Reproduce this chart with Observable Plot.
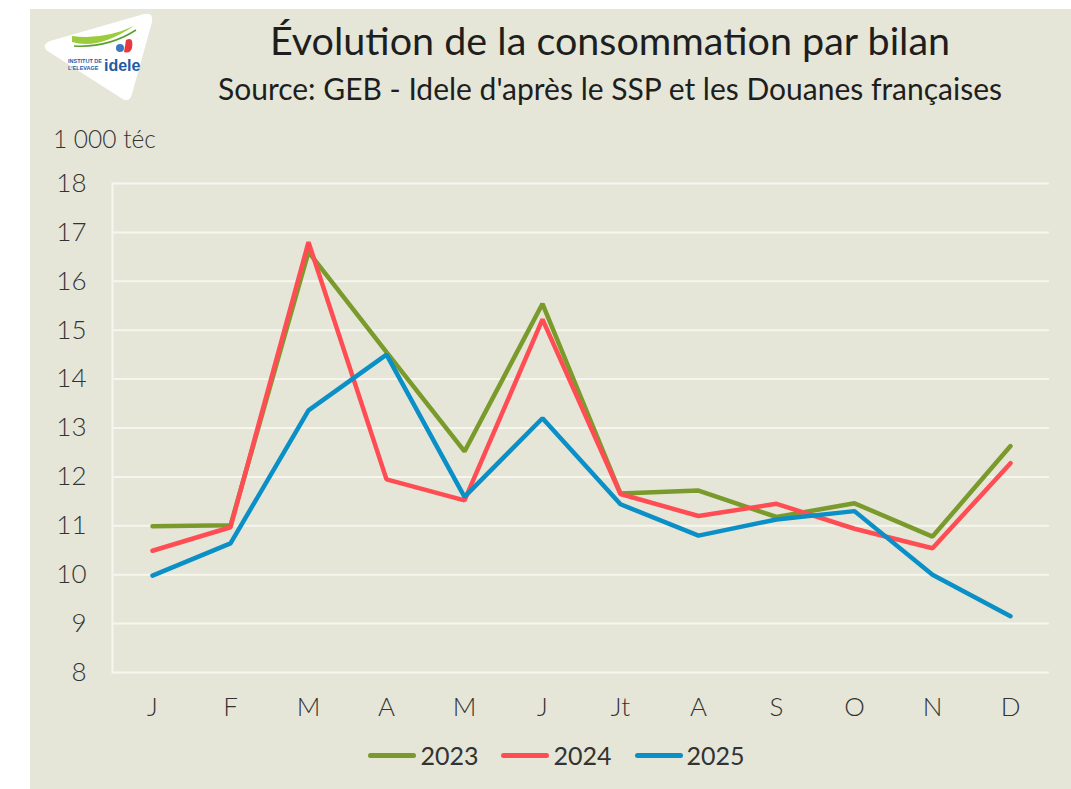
<!DOCTYPE html>
<html>
<head>
<meta charset="utf-8">
<script src="https://cdn.jsdelivr.net/npm/d3@7"></script>
<script src="https://cdn.jsdelivr.net/npm/@observablehq/plot@0.6"></script>
<style>
  html, body { margin: 0; padding: 0; background: #ffffff; }
  #wrap { position: relative; width: 1071px; height: 789px; overflow: hidden; font-family: Lato, "Open Sans", sans-serif; }
  #panel { position: absolute; left: 30px; top: 9px; width: 1041px; height: 780px; background: #e5e6d8; }
  .title { position: absolute; left: 610px; transform: translateX(-50%); white-space: nowrap; color: #1e1e1e; line-height: 1; }
  #t1 { top: 20px; font-size: 39.5px; }
  #t2 { top: 73px; font-size: 30px; }
  #unit { position: absolute; left: 53px; top: 127px; font-size: 24.5px; color: #333; line-height: 1; font-weight: 300; }
  #chart { position: absolute; left: 30px; top: 160px; }
  #legend { position: absolute; top: 740px; left: 0; width: 1071px; display: flex; justify-content: center; gap: 23px; padding-left: 42px; box-sizing: border-box; }
  .item { display: flex; align-items: center; font-size: 25px; color: #333; }
  .sw { width: 48px; height: 5px; border-radius: 3px; margin-right: 4px; }
  #logo { position: absolute; left: 38px; top: 10px; }
</style>
</head>
<body>
<div id="wrap">
  <div id="panel"></div>
  <svg id="logo" width="120" height="95" viewBox="0 0 120 95">
    <path d="M8 40 Q4 34 12 31 L106 4 Q116 2 114 12 L94 84 Q91 94 83 88 Z" fill="#ffffff"/>
    <path d="M34 32 Q60 40 96 16 Q66 30 34 26 Z" fill="#9ccc3c"/>
    <path d="M36 36 Q70 38 98 20" stroke="#5aa02c" stroke-width="1.5" fill="none"/>
    <path d="M88 30 Q96 26 94 38 Q92 44 86 42" fill="#e8383f"/>
    <circle cx="82" cy="38" r="4" fill="#3a78c0"/>
    <text x="30" y="53" font-size="5.5" font-weight="700" fill="#1f5aa6" font-family="Liberation Sans, sans-serif">INSTITUT DE</text>
    <text x="30" y="60" font-size="5.5" font-weight="700" fill="#1f5aa6" font-family="Liberation Sans, sans-serif">L'ELEVAGE</text>
    <text x="66" y="61" font-size="16" font-weight="700" fill="#1f5aa6" font-family="Liberation Sans, sans-serif">idele</text>
  </svg>
  <div class="title" id="t1">Évolution de la consommation par bilan</div>
  <div class="title" id="t2">Source: GEB - Idele d'après le SSP et les Douanes françaises</div>
  <div id="unit">1 000 téc</div>
  <div id="chart"></div>
  <div id="legend"></div>
</div>
<script>
const months = ["J", "F", "M", "A", "M", "J", "Jt", "A", "S", "O", "N", "D"];
const years = ["2023", "2024", "2025"];
const colors = ["#7a9a2c", "#ff4d53", "#0b8fc7"];
const v2023 = [10.99, 11.01, 16.6, 14.55, 12.52, 15.54, 11.66, 11.72, 11.18, 11.46, 10.78, 12.63];
const v2024 = [10.49, 10.97, 16.8, 11.95, 11.52, 15.22, 11.65, 11.2, 11.45, 10.94, 10.54, 12.28];
const v2025 = [9.98, 10.64, 13.36, 14.5, 11.59, 13.2, 11.44, 10.8, 11.13, 11.3, 10.0, 9.15];
const yTicks = [8, 9, 10, 11, 12, 13, 14, 15, 16, 17, 18];

const series = [v2023, v2024, v2025];
const data = [];
years.forEach((yr, s) => series[s].forEach((v, i) => data.push({year: yr, i, value: v})));

const chart = Plot.plot({
  width: 1041,
  height: 570,
  marginLeft: 82,
  marginRight: 22,
  marginTop: 23,
  marginBottom: 58,
  style: {background: "transparent", fontFamily: "Lato, 'Open Sans', sans-serif", fontSize: "26px", color: "#333", fontWeight: 300},
  x: {type: "point", domain: d3.range(months.length), padding: 0.5, label: null},
  y: {domain: [8, 18], label: null},
  color: {domain: years, range: colors},
  marks: [
    Plot.gridY(yTicks, {stroke: "#f6f6ef", strokeOpacity: 1, strokeWidth: 2}),
    Plot.frame({anchor: "left", stroke: "#f6f6ef", strokeWidth: 2}),
    Plot.axisY(yTicks, {tickSize: 0, tickPadding: 26, fontSize: 26, label: null, textAnchor: "end", fill: "#333"}),
    Plot.axisX(d3.range(months.length), {tickSize: 0, tickPadding: 25, fontSize: 26, label: null, tickFormat: i => months[i], fill: "#333"}),
    Plot.line(data, {x: "i", y: "value", z: "year", stroke: "year", strokeWidth: 4.5, strokeLinejoin: "miter", strokeLinecap: "round"})
  ]
});
document.getElementById("chart").appendChild(chart);

const leg = document.getElementById("legend");
years.forEach((yr, k) => {
  const it = document.createElement("div");
  it.className = "item";
  const sw = document.createElement("div");
  sw.className = "sw";
  sw.style.background = colors[k];
  const tx = document.createElement("span");
  tx.textContent = yr;
  it.appendChild(sw);
  it.appendChild(tx);
  leg.appendChild(it);
});
</script>
</body>
</html>
